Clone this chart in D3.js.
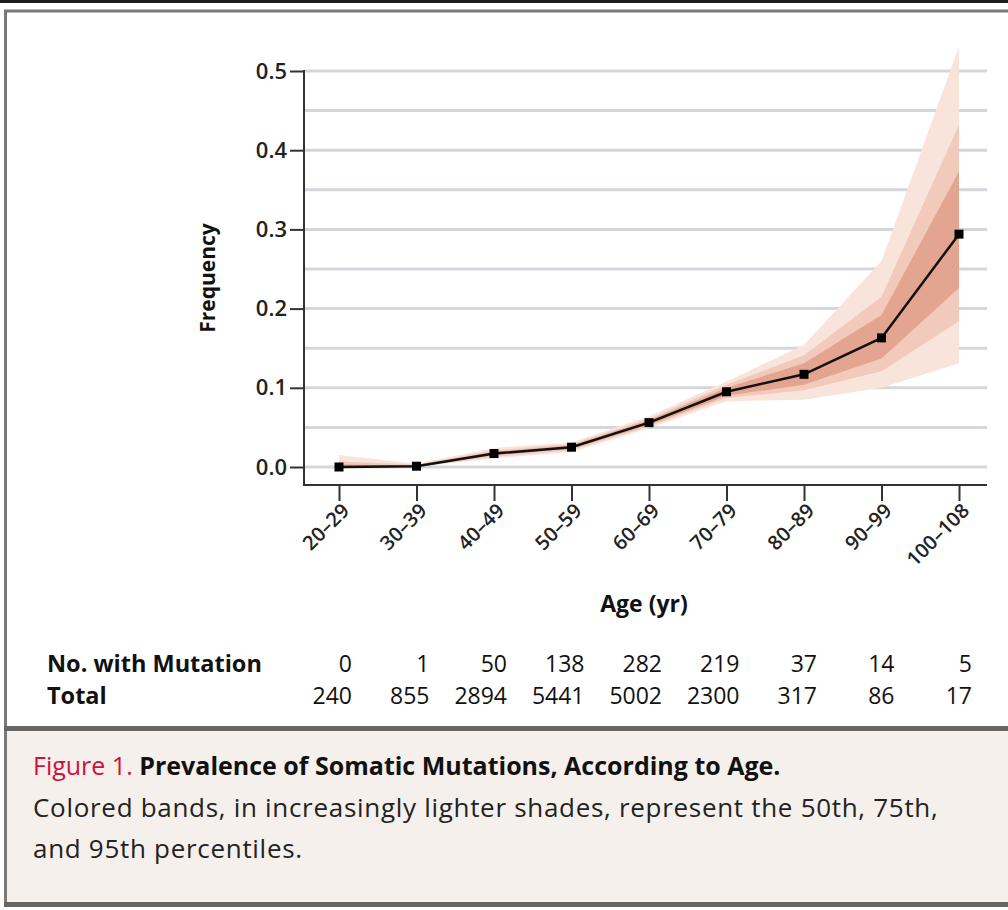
<!DOCTYPE html>
<html>
<head>
<meta charset="utf-8">
<script src="https://cdn.jsdelivr.net/npm/d3@7"></script>
<style>
  body { margin: 0; background: #fff; }
  svg { display: block; font-family: "Open Sans", Lato, sans-serif; }
</style>
</head>
<body>
<svg width="1008" height="910"></svg>
<script>
const svg = d3.select('svg');

// age groups and observed frequency (median line)
const ages = ['20–29', '30–39', '40–49', '50–59', '60–69', '70–79', '80–89', '90–99', '100–108'];
const freq = [0, 0.001, 0.017, 0.025, 0.056, 0.095, 0.117, 0.163, 0.294];

// percentile bands, lower and upper edges
const p50Lo = [0, 0, 0.015, 0.023, 0.053, 0.090, 0.104, 0.137, 0.226];
const p50Hi = [0.003, 0.002, 0.019, 0.027, 0.059, 0.100, 0.131, 0.192, 0.373];
const p75Lo = [0, 0, 0.013, 0.021, 0.051, 0.087, 0.097, 0.121, 0.184];
const p75Hi = [0.007, 0.003, 0.021, 0.029, 0.061, 0.104, 0.141, 0.215, 0.432];
const p95Lo = [0, 0, 0.011, 0.019, 0.049, 0.083, 0.085, 0.100, 0.131];
const p95Hi = [0.015, 0.004, 0.024, 0.031, 0.064, 0.108, 0.154, 0.260, 0.531];

// table under the chart
const mutated = [0, 1, 50, 138, 282, 219, 37, 14, 5];
const totals = [240, 855, 2894, 5441, 5002, 2300, 317, 86, 17];

const yTicks = [0, 0.1, 0.2, 0.3, 0.4, 0.5];
const gridTicks = [0, 0.05, 0.1, 0.15, 0.2, 0.25, 0.3, 0.35, 0.4, 0.45, 0.5];

const x = d3.scalePoint().domain(ages).range([339, 959]);
const y = d3.scaleLinear().domain([0, 0.5]).range([467, 71]);

const axisLeftX = 304, axisBottomY = 485, plotRight = 987;

// frame
svg.append('rect').attr('x', 0).attr('y', 0).attr('width', 1008).attr('height', 3).attr('fill', '#1e1e1e');
svg.append('rect').attr('x', 4).attr('y', 730).attr('width', 1004).attr('height', 174).attr('fill', '#f6f0ec');
svg.append('path')
  .attr('d', 'M1010,11 H5.5 V905.5 H1010')
  .attr('fill', 'none').attr('stroke', '#7a7a7a').attr('stroke-width', 3);
svg.append('rect').attr('x', 4).attr('y', 726).attr('width', 1004).attr('height', 5).attr('fill', '#666');
svg.append('rect').attr('x', 4).attr('y', 902).attr('width', 1004).attr('height', 5).attr('fill', '#666');

// gridlines
svg.append('g').selectAll('line')
  .data(gridTicks)
  .enter().append('line')
  .attr('x1', axisLeftX).attr('x2', plotRight)
  .attr('y1', d => y(d)).attr('y2', d => y(d))
  .attr('stroke', '#d3d7db').attr('stroke-width', 3);

// bands
const rows = ages.map((a, i) => ({
  age: a, f: freq[i],
  l50: p50Lo[i], h50: p50Hi[i],
  l75: p75Lo[i], h75: p75Hi[i],
  l95: p95Lo[i], h95: p95Hi[i]
}));

const bands = [
  { lo: 'l95', hi: 'h95', color: '#f9e4dc' },
  { lo: 'l75', hi: 'h75', color: '#f2cabb' },
  { lo: 'l50', hi: 'h50', color: '#e3a590' }
];

bands.forEach(b => {
  svg.append('path')
    .datum(rows)
    .attr('fill', b.color)
    .attr('d', d3.area()
      .x(d => x(d.age))
      .y0(d => y(d[b.lo]))
      .y1(d => y(d[b.hi])));
});

// median line
svg.append('path')
  .datum(rows)
  .attr('fill', 'none')
  .attr('stroke', '#111')
  .attr('stroke-width', 2.5)
  .attr('d', d3.line().x(d => x(d.age)).y(d => y(d.f)));

svg.append('g').selectAll('rect')
  .data(rows)
  .enter().append('rect')
  .attr('x', d => x(d.age) - 4.5)
  .attr('y', d => y(d.f) - 4.5)
  .attr('width', 9).attr('height', 9)
  .attr('fill', '#000');

// axes
const yAxis = svg.append('g')
  .attr('transform', `translate(${axisLeftX},0)`)
  .call(d3.axisLeft(y).tickValues(yTicks).tickFormat(d3.format('.1f')).tickSize(14).tickPadding(3));
yAxis.select('.domain').remove();
yAxis.selectAll('line').attr('stroke', '#333').attr('stroke-width', 2);
yAxis.selectAll('text')
  .attr('font-size', 22).attr('font-weight', 600).attr('fill', '#222')
  .attr('font-family', '"Open Sans", sans-serif');

const xAxis = svg.append('g')
  .attr('transform', `translate(0,${axisBottomY})`)
  .call(d3.axisBottom(x).tickSize(16));
xAxis.select('.domain').remove();
xAxis.selectAll('line').attr('stroke', '#333').attr('stroke-width', 2);
xAxis.selectAll('text')
  .attr('x', 0).attr('y', 0).attr('dy', 0)
  .attr('text-anchor', 'end')
  .attr('transform', 'translate(11,27) rotate(-45)')
  .attr('font-size', 20).attr('font-weight', 600).attr('fill', '#222')
  .attr('font-family', '"Open Sans", sans-serif');

svg.append('line')
  .attr('x1', axisLeftX).attr('x2', axisLeftX)
  .attr('y1', y(0.5) - 1).attr('y2', axisBottomY + 1)
  .attr('stroke', '#333').attr('stroke-width', 2);
svg.append('line')
  .attr('x1', axisLeftX).attr('x2', plotRight)
  .attr('y1', axisBottomY).attr('y2', axisBottomY)
  .attr('stroke', '#333').attr('stroke-width', 2);

// axis titles
svg.append('text')
  .attr('transform', 'translate(215,278) rotate(-90)')
  .attr('text-anchor', 'middle')
  .attr('font-size', 21).attr('font-weight', 700).attr('fill', '#111')
  .text('Frequency');

svg.append('text')
  .attr('x', 644).attr('y', 612)
  .attr('text-anchor', 'middle')
  .attr('font-size', 23).attr('font-weight', 700).attr('fill', '#111')
  .text('Age (yr)');

// counts table
const table = svg.append('g').attr('font-size', 23).attr('fill', '#111');
table.append('text').attr('x', 47).attr('y', 672).attr('font-size', 23.5).attr('font-weight', 700).text('No. with Mutation');
table.append('text').attr('x', 47).attr('y', 704).attr('font-size', 23.5).attr('font-weight', 700).text('Total');

table.selectAll('.mut')
  .data(mutated)
  .enter().append('text')
  .attr('class', 'mut')
  .attr('x', (d, i) => x(ages[i]) + 13)
  .attr('y', 672)
  .attr('text-anchor', 'end')
  .attr('font-weight', 500)
  .text(d => d);

table.selectAll('.tot')
  .data(totals)
  .enter().append('text')
  .attr('class', 'tot')
  .attr('x', (d, i) => x(ages[i]) + 13)
  .attr('y', 704)
  .attr('text-anchor', 'end')
  .attr('font-weight', 500)
  .text(d => d);

// caption
const title = svg.append('text').attr('x', 33).attr('y', 775).attr('font-size', 25);
title.append('tspan').attr('fill', '#d0103a').text('Figure 1. ');
title.append('tspan').attr('fill', '#111').attr('font-weight', 700).text('Prevalence of Somatic Mutations, According to Age.');

svg.append('text').attr('x', 33).attr('y', 817).attr('font-size', 26).attr('letter-spacing', 0.7).attr('fill', '#222')
  .text('Colored bands, in increasingly lighter shades, represent the 50th, 75th,');
svg.append('text').attr('x', 33).attr('y', 858).attr('font-size', 26).attr('letter-spacing', 0.7).attr('fill', '#222')
  .text('and 95th percentiles.');
</script>
</body>
</html>
